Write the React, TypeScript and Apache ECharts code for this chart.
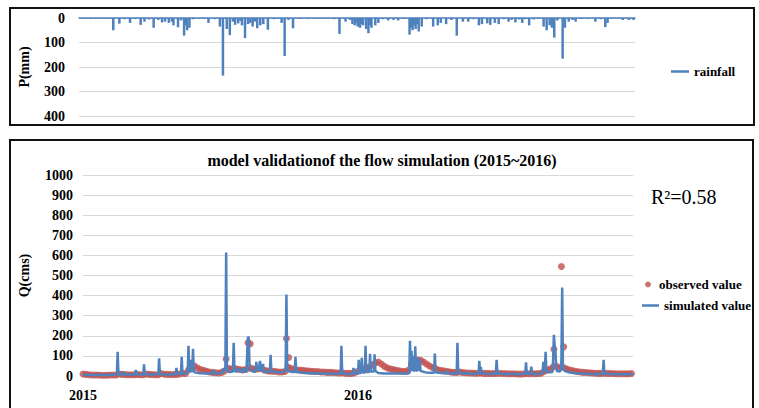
import React, { useEffect, useRef } from "react";
import * as echarts from "echarts";

const FONT = "'Liberation Serif', 'Times New Roman', serif";
const BLUE = "#4F81BD";
const RED = "#C0504D";
const GRID = "#D9D9D9";

// x axis: days since 2015-01-01
const xTickLabels: Record<number, string> = { 0: "2015", 365: "2016" };
const rainTicks = [0, 100, 200, 300, 400];
const flowTicks = [0, 100, 200, 300, 400, 500, 600, 700, 800, 900, 1000];

// rainfall (mm): [day, value]
const rainfall: [number, number][] = [
  [3, 3], [8, 2], [15, 3], [22, 4], [28, 3], [35, 2], [40, 4], [45, 50], [53, 23], [60, 5],
  [67, 20], [74, 4], [81, 28], [86, 15], [92, 6], [98, 40], [104, 8], [109, 18], [113, 15], [118, 20],
  [122, 15], [124, 30], [130, 38], [134, 10], [138, 72], [140, 30], [142, 50], [145, 40], [150, 5], [158, 3], [163, 4],
  [170, 20], [178, 5], [185, 35], [189, 235], [194, 45], [198, 70], [202, 15], [205, 28], [209, 22], [212, 12], [214, 30],
  [218, 82], [222, 25], [225, 20], [228, 35], [231, 15], [234, 42], [238, 30], [242, 25], [248, 48], [256, 5],
  [262, 3], [266, 20], [270, 155], [275, 8], [281, 42], [290, 4], [301, 3], [308, 2], [314, 3], [320, 2],
  [327, 3], [335, 5], [342, 65], [350, 15], [356, 8], [359, 25], [362, 30], [364, 20], [366, 35], [369, 40], [371, 25], [373, 30],
  [377, 45], [380, 62], [382, 30], [384, 40], [389, 30], [393, 20], [399, 5], [406, 10], [413, 8], [419, 10], [426, 4],
  [434, 68], [436, 40], [438, 50], [440, 30], [442, 45], [444, 25], [446, 55], [450, 35], [456, 5], [465, 35], [471, 30], [475, 20], [482, 25],
  [489, 8], [496, 72], [504, 15], [511, 15], [518, 5], [525, 30], [529, 25], [536, 22], [540, 28], [546, 20],
  [551, 25], [558, 5], [564, 15], [568, 8], [573, 18], [578, 6], [582, 20], [586, 5], [591, 30], [597, 6],
  [603, 4], [610, 35], [614, 50], [618, 30], [621, 40], [624, 80], [628, 10], [635, 166], [638, 40], [643, 15],
  [648, 8], [652, 15], [660, 4], [668, 3], [678, 15], [685, 5], [691, 37], [694, 20], [700, 3], [708, 3],
  [714, 8], [722, 8], [728, 8],
];

// simulated flow (cms): [day, value]
const simulated: [number, number][] = [
  [0, 6], [10, 5], [20, 5], [30, 5], [40, 6],
  [45, 8], [46, 120], [47, 12], [48, 8],
  [53, 8], [54, 20], [55, 8], [62, 7],
  [69, 8], [70, 30], [71, 8], [80, 8], [81, 58], [82, 10], [90, 8],
  [100, 9], [101, 88], [102, 12], [103, 9], [112, 8],
  [123, 9], [124, 40], [125, 10], [130, 10], [131, 95], [132, 14], [136, 12],
  [139, 14], [140, 150], [141, 30], [142, 22], [143, 80], [144, 25], [145, 20], [146, 135], [147, 30], [148, 18],
  [155, 14], [165, 12], [172, 12], [173, 28], [174, 12], [180, 14],
  [185, 16], [186, 38], [187, 22], [188, 30], [189, 50], [190, 615], [191, 40], [192, 22], [195, 20],
  [199, 22], [200, 165], [201, 30], [202, 22],
  [205, 25], [206, 38], [207, 22], [208, 35], [209, 30], [210, 20], [212, 24], [213, 38], [214, 22],
  [217, 22], [218, 120], [219, 195], [220, 190], [221, 60], [222, 30], [226, 22],
  [229, 25], [230, 70], [231, 28], [233, 30], [235, 75], [236, 35], [237, 25], [238, 30], [239, 60], [240, 22],
  [245, 20], [248, 20], [249, 105], [250, 25], [255, 20], [262, 18],
  [268, 22], [269, 40], [270, 405], [271, 45], [272, 25], [278, 20],
  [281, 20], [282, 95], [283, 22], [290, 16], [300, 14], [310, 12], [320, 12], [330, 11],
  [342, 11], [343, 150], [344, 15], [350, 10],
  [358, 10], [359, 40], [360, 12], [365, 12], [366, 80], [367, 15],
  [369, 15], [370, 90], [371, 18], [374, 16], [375, 150], [376, 20],
  [380, 20], [381, 110], [382, 22], [386, 22], [387, 108], [388, 25], [392, 15],
  [400, 12], [410, 12], [420, 12], [430, 12],
  [433, 14], [434, 175], [435, 30], [436, 125], [437, 25], [438, 100], [439, 30], [440, 22], [441, 148], [442, 30],
  [444, 25], [445, 90], [446, 25], [447, 80], [448, 25], [455, 18], [462, 16],
  [466, 16], [467, 112], [468, 18], [475, 15], [482, 14], [483, 25], [484, 14], [490, 12],
  [496, 12], [497, 165], [498, 15], [505, 12], [508, 12], [509, 20], [510, 12], [518, 11],
  [525, 11], [526, 75], [527, 15], [528, 45], [529, 12], [538, 11],
  [548, 11], [549, 80], [550, 12], [560, 10], [570, 10], [580, 10],
  [587, 10], [588, 68], [589, 12], [594, 10], [595, 46], [596, 10], [605, 10],
  [609, 12], [610, 20], [611, 70], [612, 20], [613, 25], [614, 120], [615, 30], [616, 20], [620, 18],
  [623, 20], [624, 80], [625, 205], [626, 150], [627, 130], [628, 40], [629, 25],
  [633, 22], [634, 30], [635, 80], [636, 440], [637, 60], [638, 35], [640, 25],
  [645, 18], [655, 14], [665, 12], [675, 10], [685, 10],
  [690, 10], [691, 80], [692, 12], [700, 10], [710, 9], [720, 9], [730, 9],
];

// observed flow (cms), one value every 4 days starting at day 0
const observedStep = 4;
const observedBand: number[] = [
  10, 8, 6, 5, 5, 5, 4, 4, 4, 5, 5, 5,
  10, 8, 7, 6, 6, 6, 8, 6, 6, 10, 8, 7, 6, 6, 12, 9, 8, 7, 7, 8, 10, 14, 12,
  30, 45, 50, 40, 32, 28, 24, 20, 18, 16, 15, 18,
  25, 40, 35, 38, 35, 32, 30, 32, 40, 38, 32, 35, 38, 30,
  26, 24, 24, 22, 20, 20, 22,
  45, 38, 32, 30, 30, 28, 26, 25, 24, 22, 22, 20, 20, 18, 18, 17, 16, 15,
  16, 14, 13, 13, 15, 22, 30, 35, 40, 45, 55, 65, 70, 60,
  48, 40, 35, 32, 28, 26, 24, 22, 30,
  60, 75, 80, 78, 70, 60, 50, 42, 36, 30, 27, 25,
  22, 20, 18, 18, 20, 17, 16, 15, 15, 14, 14, 15,
  13, 13, 12, 12, 13, 14, 12, 12, 11, 11, 11, 10, 10, 10, 12, 11, 12, 11, 12, 14,
  22, 30, 35, 45, 50, 40, 45, 38, 32, 28, 25,
  22, 20, 18, 17, 16, 15, 14, 13, 13, 14, 13, 12, 12, 11, 11, 11, 11, 11, 12,
];
// isolated observed peaks
const observedPeakDays = [190, 219, 222, 270, 273, 625, 635, 638];
const observedPeakValues = [85, 165, 160, 187, 92, 133, 545, 145];

export default function App() {
  const ref = useRef<HTMLDivElement>(null);

  useEffect(() => {
    document.body.style.margin = "0";
    if (!ref.current) return;
    const chart = echarts.init(ref.current, undefined, { renderer: "svg" });

    const observed: [number, number][] = observedBand.map((v, i) => [i * observedStep, v]);
    observedPeakDays.forEach((d, i) => observed.push([d, observedPeakValues[i]]));

    const labelStyle = { fontFamily: FONT, fontWeight: "bold" as const, fontSize: 13, color: "#000" };
    const tickStyle = { ...labelStyle, fontSize: 14, formatter: (v: number) => String(v) };

    chart.setOption({
      animation: false,
      grid: [
        { left: 79, width: 556, top: 18, height: 98 },
        { left: 83, width: 550, top: 175, height: 201 },
      ],
      xAxis: [
        {
          gridIndex: 0, type: "value", min: 0, max: 730, position: "top",
          axisLine: { show: true, lineStyle: { color: BLUE, width: 1.5 } },
          axisTick: { show: false }, axisLabel: { show: false }, splitLine: { show: false },
        },
        {
          gridIndex: 1, type: "value", min: 0, max: 730, interval: 365,
          axisLine: { show: true, lineStyle: { color: GRID } },
          axisTick: { show: false }, splitLine: { show: false },
          axisLabel: { ...labelStyle, fontSize: 14, margin: 12, formatter: (v: number) => xTickLabels[v] ?? "" },
        },
      ],
      yAxis: [
        {
          gridIndex: 0, type: "value", inverse: true, min: rainTicks[0], max: rainTicks[rainTicks.length - 1], interval: 100,
          name: "P(mm)", nameLocation: "middle", nameGap: 48, nameRotate: 90,
          nameTextStyle: { fontFamily: FONT, fontWeight: "bold", fontSize: 14, color: "#000" },
          axisLine: { show: false }, axisTick: { show: false },
          axisLabel: { ...tickStyle, margin: 14 },
          splitLine: { lineStyle: { color: GRID } },
        },
        {
          gridIndex: 1, type: "value", min: flowTicks[0], max: flowTicks[flowTicks.length - 1], interval: 100,
          name: "Q(cms)", nameLocation: "middle", nameGap: 52, nameRotate: 90,
          nameTextStyle: { fontFamily: FONT, fontWeight: "bold", fontSize: 14, color: "#000" },
          axisLine: { show: false }, axisTick: { show: false },
          axisLabel: { ...tickStyle, margin: 10 },
          splitLine: { lineStyle: { color: GRID } },
        },
      ],
      legend: [
        {
          data: ["rainfall"], left: 666, top: 60, icon: "rect", itemWidth: 18, itemHeight: 2.5,
          selectedMode: false, textStyle: labelStyle,
        },
        {
          data: [{ name: "observed value", icon: "circle" }], left: 640, top: 273, itemWidth: 12, itemHeight: 6,
          selectedMode: false, textStyle: labelStyle,
        },
        {
          data: [{ name: "simulated value", icon: "rect" }], left: 637, top: 294, itemWidth: 17, itemHeight: 2.5,
          selectedMode: false, textStyle: labelStyle,
        },
      ],
      graphic: [
        { type: "rect", shape: { x: 10, y: 8, width: 744, height: 117 }, style: { fill: "none", stroke: "#111", lineWidth: 2 }, silent: true },
        { type: "rect", shape: { x: 10, y: 140, width: 743, height: 290 }, style: { fill: "none", stroke: "#111", lineWidth: 2 }, silent: true },
        {
          type: "text", x: 382, y: 160,
          style: { text: "model validationof the flow simulation (2015~2016)", fontFamily: FONT, fontWeight: "bold", fontSize: 16, fill: "#000", textAlign: "center", textVerticalAlign: "middle" },
        },
        {
          type: "text", x: 651, y: 197,
          style: { text: "R²=0.58", fontFamily: FONT, fontSize: 20, fill: "#000", textAlign: "left", textVerticalAlign: "middle" },
        },
      ],
      series: [
        {
          name: "rainfall", type: "bar", xAxisIndex: 0, yAxisIndex: 0, data: rainfall, barWidth: 2.5,
          itemStyle: { color: BLUE },
        },
        {
          name: "observed value", type: "scatter", xAxisIndex: 1, yAxisIndex: 1, data: observed,
          symbolSize: 7, itemStyle: { color: RED }, z: 2,
        },
        {
          name: "simulated value", type: "line", xAxisIndex: 1, yAxisIndex: 1, data: simulated,
          symbol: "none", lineStyle: { color: BLUE, width: 2.5 }, itemStyle: { color: BLUE }, z: 3,
        },
      ],
    });

    return () => chart.dispose();
  }, []);

  return <div ref={ref} style={{ width: 759, height: 408 }} />;
}
